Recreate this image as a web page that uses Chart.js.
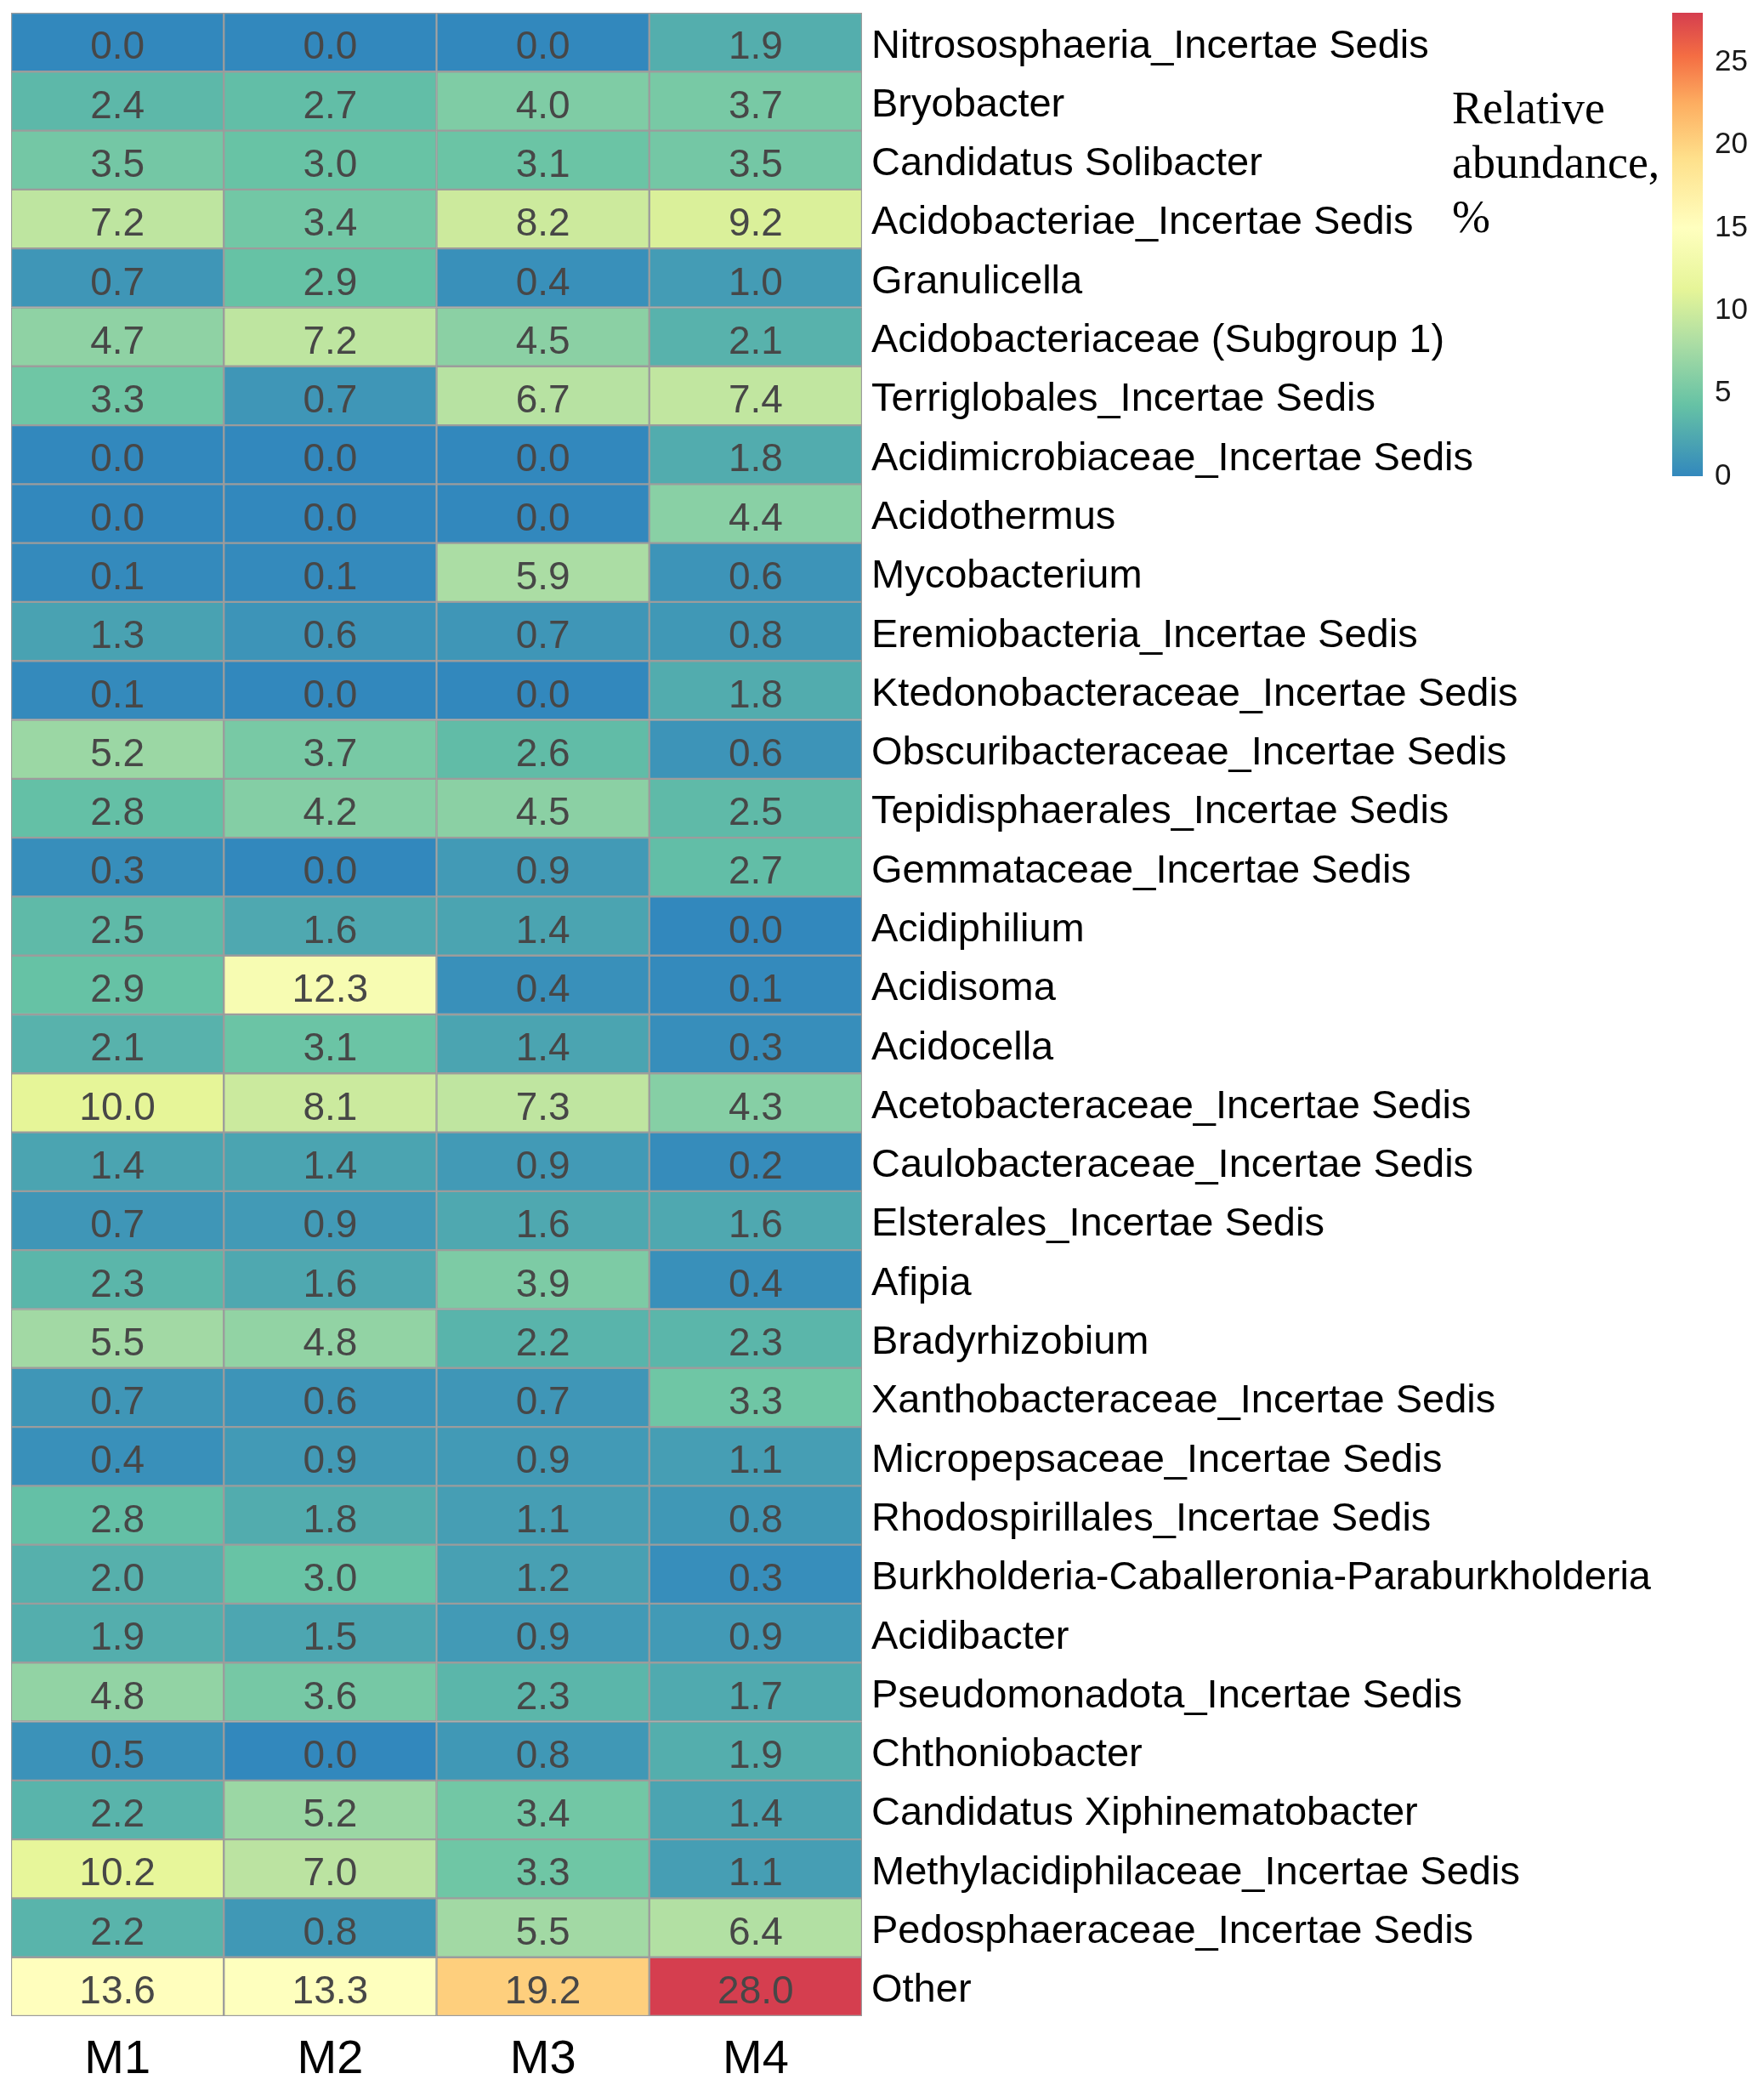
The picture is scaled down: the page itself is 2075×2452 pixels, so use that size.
<!DOCTYPE html>
<html>
<head>
<meta charset="utf-8">
<script src="https://cdn.jsdelivr.net/npm/chart.js@4/dist/chart.umd.min.js"></script>
<style>
  html, body { margin: 0; padding: 0; background: #ffffff; }
  #wrap { position: relative; width: 2075px; height: 2452px; }
  #heat { position: absolute; left: 0; top: 0; }
  #bar { position: absolute; left: 1900px; top: 0; }
</style>
</head>
<body>
<div id="wrap">
  <canvas id="heat" width="2075" height="2452"></canvas>
  <canvas id="bar" width="175" height="620"></canvas>
</div>
<script>
// 样本（列）
const samples = ['M1', 'M2', 'M3', 'M4'];

// 属名（行）
const genera = [
    'Nitrososphaeria_Incertae Sedis', 'Bryobacter', 'Candidatus Solibacter',
    'Acidobacteriae_Incertae Sedis', 'Granulicella', 'Acidobacteriaceae (Subgroup 1)',
    'Terriglobales_Incertae Sedis', 'Acidimicrobiaceae_Incertae Sedis', 'Acidothermus',
    'Mycobacterium', 'Eremiobacteria_Incertae Sedis', 'Ktedonobacteraceae_Incertae Sedis',
    'Obscuribacteraceae_Incertae Sedis', 'Tepidisphaerales_Incertae Sedis',
    'Gemmataceae_Incertae Sedis', 'Acidiphilium', 'Acidisoma', 'Acidocella',
    'Acetobacteraceae_Incertae Sedis', 'Caulobacteraceae_Incertae Sedis',
    'Elsterales_Incertae Sedis', 'Afipia', 'Bradyrhizobium',
    'Xanthobacteraceae_Incertae Sedis', 'Micropepsaceae_Incertae Sedis',
    'Rhodospirillales_Incertae Sedis', 'Burkholderia-Caballeronia-Paraburkholderia',
    'Acidibacter', 'Pseudomonadota_Incertae Sedis', 'Chthoniobacter',
    'Candidatus Xiphinematobacter', 'Methylacidiphilaceae_Incertae Sedis',
    'Pedosphaeraceae_Incertae Sedis', 'Other'
];

// 相对丰度 %（每个样本一列）
const m1 = [0.0, 2.4, 3.5, 7.2, 0.7, 4.7, 3.3, 0.0, 0.0, 0.1, 1.3, 0.1, 5.2, 2.8, 0.3, 2.5, 2.9,
            2.1, 10.0, 1.4, 0.7, 2.3, 5.5, 0.7, 0.4, 2.8, 2.0, 1.9, 4.8, 0.5, 2.2, 10.2, 2.2, 13.6];
const m2 = [0.0, 2.7, 3.0, 3.4, 2.9, 7.2, 0.7, 0.0, 0.0, 0.1, 0.6, 0.0, 3.7, 4.2, 0.0, 1.6, 12.3,
            3.1, 8.1, 1.4, 0.9, 1.6, 4.8, 0.6, 0.9, 1.8, 3.0, 1.5, 3.6, 0.0, 5.2, 7.0, 0.8, 13.3];
const m3 = [0.0, 4.0, 3.1, 8.2, 0.4, 4.5, 6.7, 0.0, 0.0, 5.9, 0.7, 0.0, 2.6, 4.5, 0.9, 1.4, 0.4,
            1.4, 7.3, 0.9, 1.6, 3.9, 2.2, 0.7, 0.9, 1.1, 1.2, 0.9, 2.3, 0.8, 3.4, 3.3, 5.5, 19.2];
const m4 = [1.9, 3.7, 3.5, 9.2, 1.0, 2.1, 7.4, 1.8, 4.4, 0.6, 0.8, 1.8, 0.6, 2.5, 2.7, 0.0, 0.1,
            0.3, 4.3, 0.2, 1.6, 0.4, 2.3, 3.3, 1.1, 0.8, 0.3, 0.9, 1.7, 1.9, 1.4, 1.1, 6.4, 28.0];
const columns = [m1, m2, m3, m4];

// 色标
const scaleMin = 0;
const scaleMax = 28;
const scaleTicks = [0, 5, 10, 15, 20, 25];
const legendTitle = ['Relative', 'abundance,', '%'];

// Spectral 9 色（反转）及各色对应的数值位置
const palette = ['#3288BD', '#66C2A5', '#ABDDA4', '#E6F598', '#FFFFBF',
                 '#FEE08B', '#FDAE61', '#F46D43', '#D53E4F'];
const cellStops = [0, 2.9, 5.9, 10.0, 13.4, 18.0, 21.6, 24.8, 28];
const barStops = [0, 4.3, 8.0, 11.3, 15.0, 19.2, 22.5, 25.4, 28];

const SANS = '"Liberation Sans", Arial, Helvetica, sans-serif';
const SERIF = '"Liberation Serif", "Times New Roman", serif';

function hexToRgb(h) {
    return [parseInt(h.slice(1, 3), 16), parseInt(h.slice(3, 5), 16), parseInt(h.slice(5, 7), 16)];
}

// 数值 -> 颜色（分段线性插值）
function colorFor(v) {
    let i = 0;
    while (i < cellStops.length - 2 && v > cellStops[i + 1]) i++;
    const f = Math.max(0, Math.min(1, (v - cellStops[i]) / (cellStops[i + 1] - cellStops[i])));
    const a = hexToRgb(palette[i]), b = hexToRgb(palette[i + 1]);
    const c = a.map((x, k) => Math.round(x + (b[k] - x) * f));
    return `rgb(${c[0]}, ${c[1]}, ${c[2]})`;
}

// 在格子中写数值 + 图例标题
const cellText = {
    id: 'cellText',
    afterDatasetsDraw(chart) {
        const ctx = chart.ctx;
        ctx.save();
        ctx.font = '46px ' + SANS;
        ctx.fillStyle = '#474747';
        ctx.textAlign = 'center';
        ctx.textBaseline = 'middle';
        chart.data.datasets.forEach((ds, r) => {
            chart.getDatasetMeta(r).data.forEach((bar, c) => {
                const p = bar.getProps(['x', 'y', 'base'], true);
                ctx.fillText(columns[c][r].toFixed(1), p.x, (p.y + p.base) / 2 + 7);
            });
        });
        ctx.font = '54px ' + SERIF;
        ctx.fillStyle = '#000';
        ctx.textAlign = 'left';
        ctx.textBaseline = 'alphabetic';
        legendTitle.forEach((t, i) => ctx.fillText(t, 1708, 145 + i * 64));
        ctx.restore();
    }
};

new Chart(document.getElementById('heat'), {
    type: 'bar',
    data: {
        labels: samples,
        datasets: genera.map((g, r) => ({
            label: g,
            data: samples.map(() => [r, r + 1]),
            backgroundColor: columns.map(col => colorFor(col[r])),
            borderColor: '#9c9c9c',
            borderWidth: 1.5,
            borderSkipped: false,
            grouped: false,
            categoryPercentage: 1,
            barPercentage: 1
        }))
    },
    options: {
        responsive: false,
        animation: false,
        devicePixelRatio: 1,
        layout: { padding: { left: 13, top: 15, right: 0, bottom: 0 } },
        plugins: { legend: { display: false }, tooltip: { enabled: false } },
        scales: {
            x: {
                position: 'bottom',
                grid: { display: false, drawTicks: false },
                border: { display: false },
                ticks: { font: { size: 56, family: SANS }, color: '#000', padding: 18 },
                afterFit(s) { s.height = 81; s.paddingLeft = 0; s.paddingRight = 0; }
            },
            y: {
                type: 'linear',
                position: 'right',
                min: 0,
                max: genera.length,
                reverse: true,
                grid: { display: false, drawTicks: false },
                border: { display: false },
                ticks: {
                    autoSkip: false,
                    font: { size: 47, family: SANS },
                    color: '#000',
                    padding: 11,
                    labelOffset: 5,
                    callback: v => genera[Math.floor(v)]
                },
                afterBuildTicks(s) { s.ticks = genera.map((_, i) => ({ value: i + 0.5 })); },
                afterFit(s) { s.width = 2075 - 1014; s.paddingTop = 0; s.paddingBottom = 0; }
            }
        }
    },
    plugins: [cellText]
});

// 色标条
new Chart(document.getElementById('bar'), {
    type: 'bar',
    data: {
        labels: [''],
        datasets: [{
            data: [[scaleMin, scaleMax]],
            backgroundColor(c) {
                const area = c.chart.chartArea;
                if (!area || !isFinite(area.top) || !isFinite(area.bottom)) return palette[0];
                const g = c.chart.ctx.createLinearGradient(0, area.bottom, 0, area.top);
                palette.forEach((col, i) => g.addColorStop((barStops[i] - scaleMin) / (scaleMax - scaleMin), col));
                return g;
            },
            borderWidth: 0,
            categoryPercentage: 1,
            barPercentage: 1
        }]
    },
    options: {
        responsive: false,
        animation: false,
        devicePixelRatio: 1,
        layout: { padding: { left: 67, top: 15, right: 0, bottom: 60 } },
        plugins: { legend: { display: false }, tooltip: { enabled: false } },
        scales: {
            x: { display: false },
            y: {
                position: 'right',
                min: scaleMin,
                max: scaleMax,
                grid: { display: false, drawTicks: false },
                border: { display: false },
                afterBuildTicks(s) { s.ticks = scaleTicks.map(v => ({ value: v })); },
                ticks: { font: { size: 35, family: SANS }, color: '#1a1a1a', padding: 14 },
                afterFit(s) { s.width = 72; s.paddingTop = 0; s.paddingBottom = 0; }
            }
        }
    }
});
</script>
</body>
</html>
